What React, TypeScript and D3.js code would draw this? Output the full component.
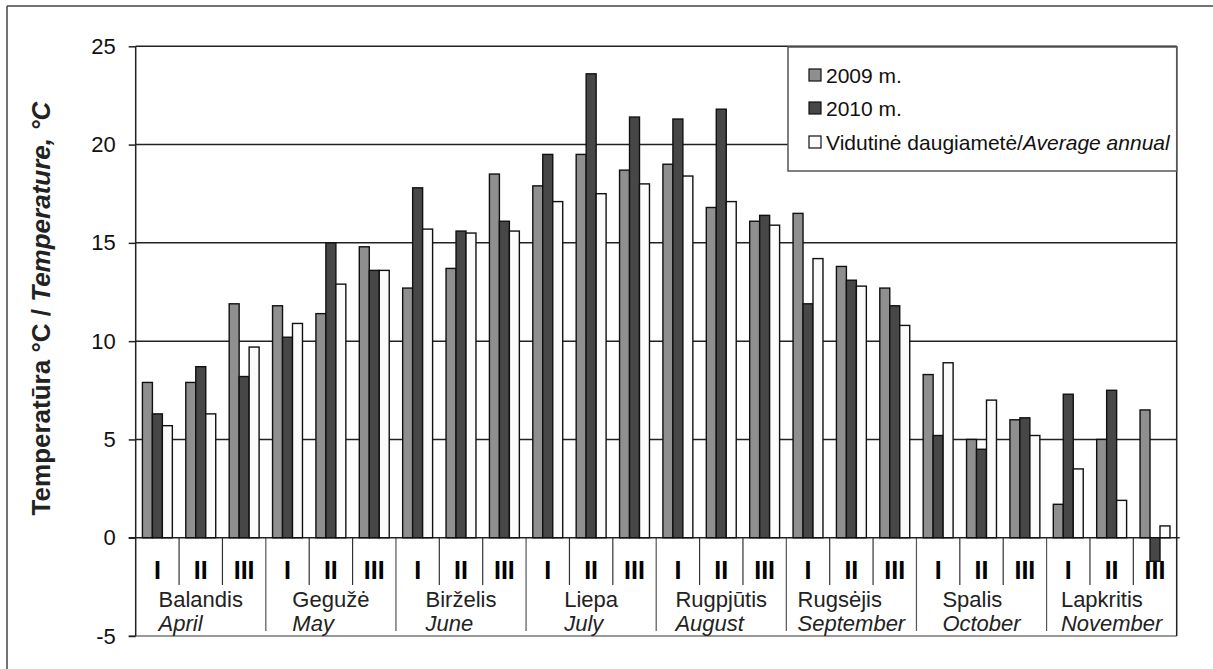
import React, { useRef, useEffect } from "react";
import * as d3 from "d3";

const monthsLt = ["Balandis", "Gegužė", "Birželis", "Liepa", "Rugpjūtis", "Rugsėjis", "Spalis", "Lapkritis"];
const monthsEn = ["April", "May", "June", "July", "August", "September", "October", "November"];
const dekads = ["I", "II", "III"];

const t2009 = [7.9, 7.9, 11.9, 11.8, 11.4, 14.8, 12.7, 13.7, 18.5, 17.9, 19.5, 18.7, 19.0, 16.8, 16.1, 16.5, 13.8, 12.7, 8.3, 5.0, 6.0, 1.7, 5.0, 6.5];
const t2010 = [6.3, 8.7, 8.2, 10.2, 15.0, 13.6, 17.8, 15.6, 16.1, 19.5, 23.6, 21.4, 21.3, 21.8, 16.4, 11.9, 13.1, 11.8, 5.2, 4.5, 6.1, 7.3, 7.5, -1.2];
const tAvg = [5.7, 6.3, 9.7, 10.9, 12.9, 13.6, 15.7, 15.5, 15.6, 17.1, 17.5, 18.0, 18.4, 17.1, 15.9, 14.2, 12.8, 10.8, 8.9, 7.0, 5.2, 3.5, 1.9, 0.6];

const seriesNames = ["2009 m.", "2010 m.", "avg"];
const yTicks = [-5, 0, 5, 10, 15, 20, 25];

const W = 1213;
const H = 669;
const FONT = "'Liberation Sans', Arial, sans-serif";
const NARROW = "'Liberation Sans Narrow', 'Liberation Sans', Arial, sans-serif";

const App: React.FC = () => {
  const svgRef = useRef<SVGSVGElement | null>(null);

  useEffect(() => {
    if (!svgRef.current) return;
    const svg = d3.select(svgRef.current);
    svg.selectAll("*").remove();
    svg.style("font-family", FONT);

    const left = 135.7;
    const right = 1176.7;
    const top = 46.3;
    const bottom = 636;

    const y = d3.scaleLinear().domain([-5, 25]).range([bottom, top]);
    const keys = d3.range(24).map(String);
    const x = d3.scaleBand().domain(keys).range([left, right]).paddingInner(0.31).paddingOuter(0.155);
    const xs = d3.scaleBand().domain(seriesNames).range([0, x.bandwidth()]);
    const xm = d3.scaleBand().domain(monthsLt).range([left, right]);
    const step = x.step();
    const colors = ["#8f8f8f", "#474747", "#fbfbfb"];
    const series = [t2009, t2010, tAvg];

    // outer frame
    svg.append("line").attr("x1", 7).attr("x2", W).attr("y1", 6).attr("y2", 6).attr("stroke", "#444").attr("stroke-width", 1.5);
    svg.append("line").attr("x1", 7).attr("x2", 7).attr("y1", 6).attr("y2", H).attr("stroke", "#444").attr("stroke-width", 1.5);

    // gridlines
    svg
      .append("g")
      .selectAll("line")
      .data([5, 10, 15, 20, 25])
      .join("line")
      .attr("x1", left)
      .attr("x2", right)
      .attr("y1", (d) => y(d))
      .attr("y2", (d) => y(d))
      .attr("stroke", "#222")
      .attr("stroke-width", 1.5);

    // -5 line
    svg.append("line").attr("x1", left - 7).attr("x2", right).attr("y1", y(-5)).attr("y2", y(-5)).attr("stroke", "#777").attr("stroke-width", 1.5);

    // y axis
    svg
      .append("g")
      .attr("transform", `translate(${left},0)`)
      .call(d3.axisLeft(y).tickValues(yTicks).tickSize(7).tickPadding(13).tickFormat((d) => String(d)))
      .call((g) => g.select(".domain").remove())
      .call((g) => g.selectAll(".tick line").attr("stroke", "#222").attr("stroke-width", 1.5))
      .call((g) =>
        g.selectAll(".tick text").attr("fill", "#111").attr("font-size", "22px").attr("font-family", FONT)
      );
    svg.append("line").attr("x1", left).attr("x2", left).attr("y1", top).attr("y2", bottom).attr("stroke", "#222").attr("stroke-width", 1.5);
    svg.append("line").attr("x1", right).attr("x2", right).attr("y1", top).attr("y2", bottom).attr("stroke", "#222").attr("stroke-width", 1.5);

    // category separators below zero
    const sep = svg.append("g");
    d3.range(1, 24).forEach((i) => {
      const xx = left + i * step;
      const isMonth = i % 3 === 0;
      sep
        .append("line")
        .attr("x1", xx)
        .attr("x2", xx)
        .attr("y1", y(0))
        .attr("y2", isMonth ? 631 : 585)
        .attr("stroke", isMonth ? "#555" : "#333")
        .attr("stroke-width", 1.2);
    });

    // dekad labels
    svg
      .append("g")
      .selectAll("text")
      .data(keys)
      .join("text")
      .attr("x", (d) => (x(d) as number) + x.bandwidth() / 2)
      .attr("y", 579)
      .attr("text-anchor", "middle")
      .attr("font-size", "25px")
      .attr("font-family", NARROW)
      .attr("font-weight", "bold")
      .attr("fill", "#000")
      .text((d) => dekads[+d % 3]);

    // month labels: left-aligned block centred on month
    monthsLt.forEach((m, i) => {
      const g = svg.append("g");
      const t1 = g.append("text").attr("y", 607).attr("font-size", "22px").attr("fill", "#222").text(m);
      const t2 = g.append("text").attr("y", 631).attr("font-size", "22px").attr("font-style", "italic").attr("fill", "#222").text(monthsEn[i]);
      const w = Math.max(
        (t1.node() as SVGTextElement).getComputedTextLength(),
        (t2.node() as SVGTextElement).getComputedTextLength()
      );
      const cx = (xm(m) as number) + xm.bandwidth() / 2;
      g.attr("transform", `translate(${cx - w / 2},0)`);
    });

    // zero line
    svg.append("line").attr("x1", left - 7).attr("x2", right + 3).attr("y1", y(0)).attr("y2", y(0)).attr("stroke", "#222").attr("stroke-width", 1.5);

    // bars
    series.forEach((vals, s) => {
      svg
        .append("g")
        .selectAll("rect")
        .data(vals)
        .join("rect")
        .attr("x", (_, i) => (x(String(i)) as number) + (xs(seriesNames[s]) as number))
        .attr("y", (d) => y(Math.max(0, d)))
        .attr("width", xs.bandwidth())
        .attr("height", (d) => Math.abs(y(d) - y(0)))
        .attr("fill", colors[s])
        .attr("stroke", "#111")
        .attr("stroke-width", 1.4);
    });

    // legend
    const lg = svg.append("g");
    lg.append("rect").attr("x", 788).attr("y", 47).attr("width", right - 788).attr("height", 124).attr("fill", "#fff").attr("stroke", "#555").attr("stroke-width", 1.5);
    const rows = [75, 108, 142];
    rows.forEach((ry, s) => {
      lg.append("rect").attr("x", 809).attr("y", ry - 6).attr("width", 12).attr("height", 12).attr("fill", colors[s]).attr("stroke", "#111").attr("stroke-width", 1.2);
    });
    lg.append("text").attr("x", 826).attr("y", rows[0] + 8).attr("font-size", "21px").attr("fill", "#111").text("2009 m.");
    lg.append("text").attr("x", 826).attr("y", rows[1] + 8).attr("font-size", "21px").attr("fill", "#111").text("2010 m.");
    const lt = lg.append("text").attr("x", 826).attr("y", rows[2] + 8).attr("font-size", "21px").attr("fill", "#111");
    lt.append("tspan").text("Vidutinė daugiametė/");
    lt.append("tspan").attr("font-style", "italic").text("Average annual");

    // y title
    const yt = svg
      .append("text")
      .attr("transform", `translate(50,${(95 + 522) / 2}) rotate(-90)`)
      .attr("text-anchor", "middle")
      .attr("font-size", "26px")
      .attr("font-weight", "bold")
      .attr("fill", "#222");
    yt.append("tspan").text("Temperatūra °C / ");
    yt.append("tspan").attr("font-style", "italic").text("Temperature, °C");
  }, []);

  return (
    <div style={{ position: "absolute", left: 0, top: 0, background: "#fff" }}>
      <svg ref={svgRef} width={W} height={H} />
    </div>
  );
};

export default App;
